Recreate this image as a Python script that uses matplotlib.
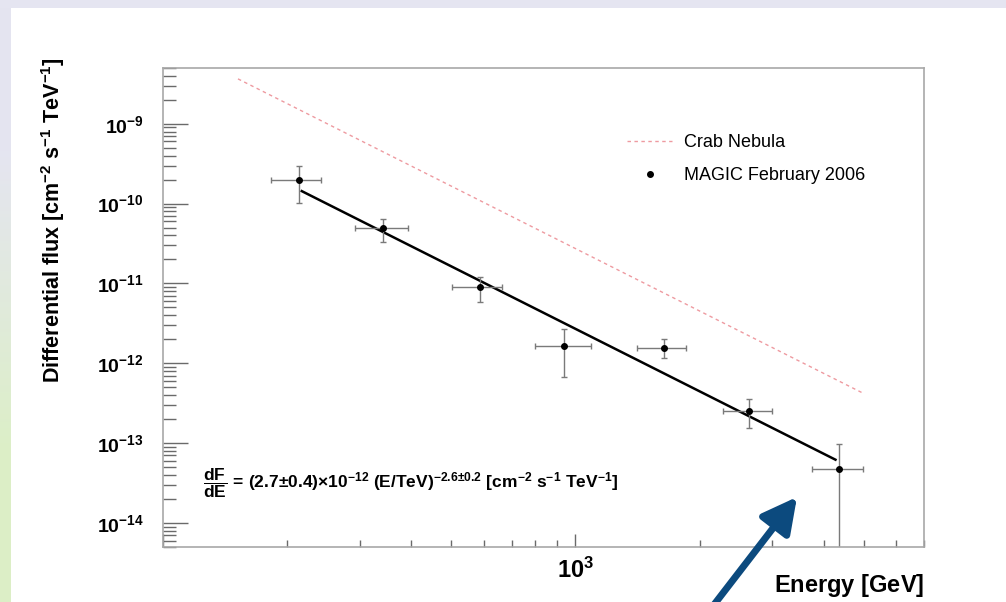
import numpy as np
import matplotlib
matplotlib.use("Agg")
import matplotlib.pyplot as plt
from matplotlib.ticker import FixedLocator, FixedFormatter, NullFormatter
from matplotlib.lines import Line2D

plt.rcParams['font.family'] = ['Liberation Sans', 'DejaVu Sans']
plt.rcParams['mathtext.fontset'] = 'custom'
plt.rcParams['mathtext.rm'] = 'Liberation Sans'
plt.rcParams['mathtext.it'] = 'Liberation Sans:italic'
plt.rcParams['mathtext.bf'] = 'Liberation Sans:bold'

# MAGIC February 2006 spectral points (GeV, cm^-2 s^-1 TeV^-1)
energy = [214, 341, 587, 940, 1637, 2636, 4365]
energy_lo = [183, 292, 502, 800, 1407, 2278, 3751]
energy_hi = [241, 392, 665, 1088, 1853, 2998, 4966]
flux = [2.0e-10, 5.0e-11, 8.9e-12, 1.63e-12, 1.54e-12, 2.5e-13, 4.73e-14]
flux_lo = [1.03e-10, 3.35e-11, 5.8e-12, 6.7e-13, 1.15e-12, 1.54e-13, 1e-15]
flux_hi = [2.99e-10, 6.5e-11, 1.22e-11, 2.66e-12, 2.0e-12, 3.55e-13, 9.7e-14]

# Crab Nebula reference spectrum (end points of the power law)
crab_energy = [152, 4990]
crab_flux = [3.65e-9, 4.2e-13]

# power-law fit: dF/dE = N0 (E/TeV)^-gamma
fit_norm = 2.7e-12
fit_index = 2.6
fit_range = [217, 4270]

fig = plt.figure(figsize=(10.06, 6.02), dpi=100)
fig.patch.set_facecolor('white')

# slide background
bg = fig.add_axes([0, 0, 1, 1], zorder=-10)
bg.axis('off')
bg.set_xlim(0, 1006)
bg.set_ylim(602, 0)
lav = np.array([0.898, 0.898, 0.945])
grn = np.array([0.863, 0.937, 0.780])
t = np.clip((np.arange(602) - 150) / 300.0, 0, 1)[:, None, None]
strip = lav * (1 - t) + grn * t
bg.imshow(strip, extent=(0, 11, 602, 0), aspect='auto')
bg.add_patch(plt.Rectangle((0, 0), 1006, 8, color=lav, lw=0))
bg.add_patch(plt.Rectangle((11, 8), 995, 594, color='white', lw=0))

ax = fig.add_axes([0.162, 0.0914, 0.7565, 0.7957])
ax.set_xscale('log')
ax.set_yscale('log')
ax.set_xlim(100, 7000)
ax.set_ylim(5e-15, 5e-9)

for s in ax.spines.values():
    s.set_color('#a8a8a8')
    s.set_linewidth(1.2)

# crab reference
ax.plot(crab_energy, crab_flux, color='#ee9aa0', lw=1.0, ls=(0, (2.5, 2.5)))

# fit line
e_fit = np.logspace(np.log10(fit_range[0]), np.log10(fit_range[1]), 50)
ax.plot(e_fit, fit_norm * (e_fit / 1000.0) ** (-fit_index), color='black', lw=1.8)

# data points
e = np.array(energy)
f = np.array(flux)
xerr = [e - np.array(energy_lo), np.array(energy_hi) - e]
yerr = [f - np.array(flux_lo), np.array(flux_hi) - f]
ax.errorbar(e, f, xerr=xerr, yerr=yerr, fmt='none', ecolor='#7a7a7a',
            elinewidth=1.0, capsize=2, capthick=1.0)
ax.plot(e, f, 'o', color='black', ms=4)

# ticks
yt = [1e-14, 1e-13, 1e-12, 1e-11, 1e-10, 1e-9]
ylab = [r'$\mathbf{10^{-%d}}$' % k for k in (14, 13, 12, 11, 10, 9)]
ax.yaxis.set_major_locator(FixedLocator(yt))
ax.yaxis.set_major_formatter(FixedFormatter(ylab))
ymin = [m * 10.0 ** k for k in range(-15, -8) for m in range(2, 10)]
ax.yaxis.set_minor_locator(FixedLocator(ymin))
ax.yaxis.set_minor_formatter(NullFormatter())

ax.xaxis.set_major_locator(FixedLocator([100, 1000]))
ax.xaxis.set_major_formatter(FixedFormatter(['', r'$\mathbf{10^{3}}$']))
xmin = [m * 100 for m in range(2, 10)] + [m * 1000 for m in range(2, 8)]
ax.xaxis.set_minor_locator(FixedLocator(xmin))
ax.xaxis.set_minor_formatter(NullFormatter())

ax.tick_params(axis='y', which='major', direction='in', length=18, width=1.0,
               color='#6a6a6a', labelsize=14, pad=14)
ax.tick_params(axis='y', which='minor', direction='in', length=9.4, width=1.0,
               color='#6a6a6a')
ax.tick_params(axis='x', which='major', direction='in', length=9.4, width=1.0,
               color='#6a6a6a', labelsize=17, pad=8)
ax.tick_params(axis='x', which='minor', direction='in', length=5, width=1.0,
               color='#6a6a6a')

ax.set_ylabel(r'$\mathbf{Differential\ flux\ [cm^{-2}\ s^{-1}\ TeV^{-1}]}$',
              fontsize=15.5)
ax.yaxis.set_label_coords(-0.126, 0.683)
ax.set_xlabel(r'$\mathbf{Energy\ [GeV]}$', fontsize=17)
ax.xaxis.set_label_coords(1.0, -0.052)
ax.xaxis.label.set_horizontalalignment('right')

# fit formula
ax.text(0.052, 0.134,
        r'$\dfrac{\mathbf{dF}}{\mathbf{dE}}\mathbf{\,{=}\,(2.7{\pm}0.4){\times}10^{-12}\ (E/TeV)^{-2.6{\pm}0.2}\ [cm^{-2}\ s^{-1}\ TeV^{-1}]}$',
        transform=ax.transAxes, fontsize=12.5, va='center', ha='left')

handles = [Line2D([], [], color='#ee9aa0', lw=1.0, ls=(0, (2.5, 2.5))),
           Line2D([], [], ls='none', marker='o', color='black', ms=4)]
ax.legend(handles, ['Crab Nebula', 'MAGIC February 2006'], frameon=False,
          loc='upper left', bbox_to_anchor=(0.61, 0.862), fontsize=13,
          borderpad=0, borderaxespad=0, handlelength=2.5, handletextpad=0.65,
          labelspacing=0.9)

# pointer to the highest-energy point
ax.annotate('', xy=(797, 602 - 497), xytext=(713, -4),
            xycoords='figure pixels', textcoords='figure pixels',
            arrowprops=dict(arrowstyle='-|>,head_length=1.05,head_width=0.55',
                            color='#0c4a7e', lw=5, mutation_scale=20,
                            shrinkA=0, shrinkB=0),
            annotation_clip=False)

fig.savefig('out.png', dpi=100)
